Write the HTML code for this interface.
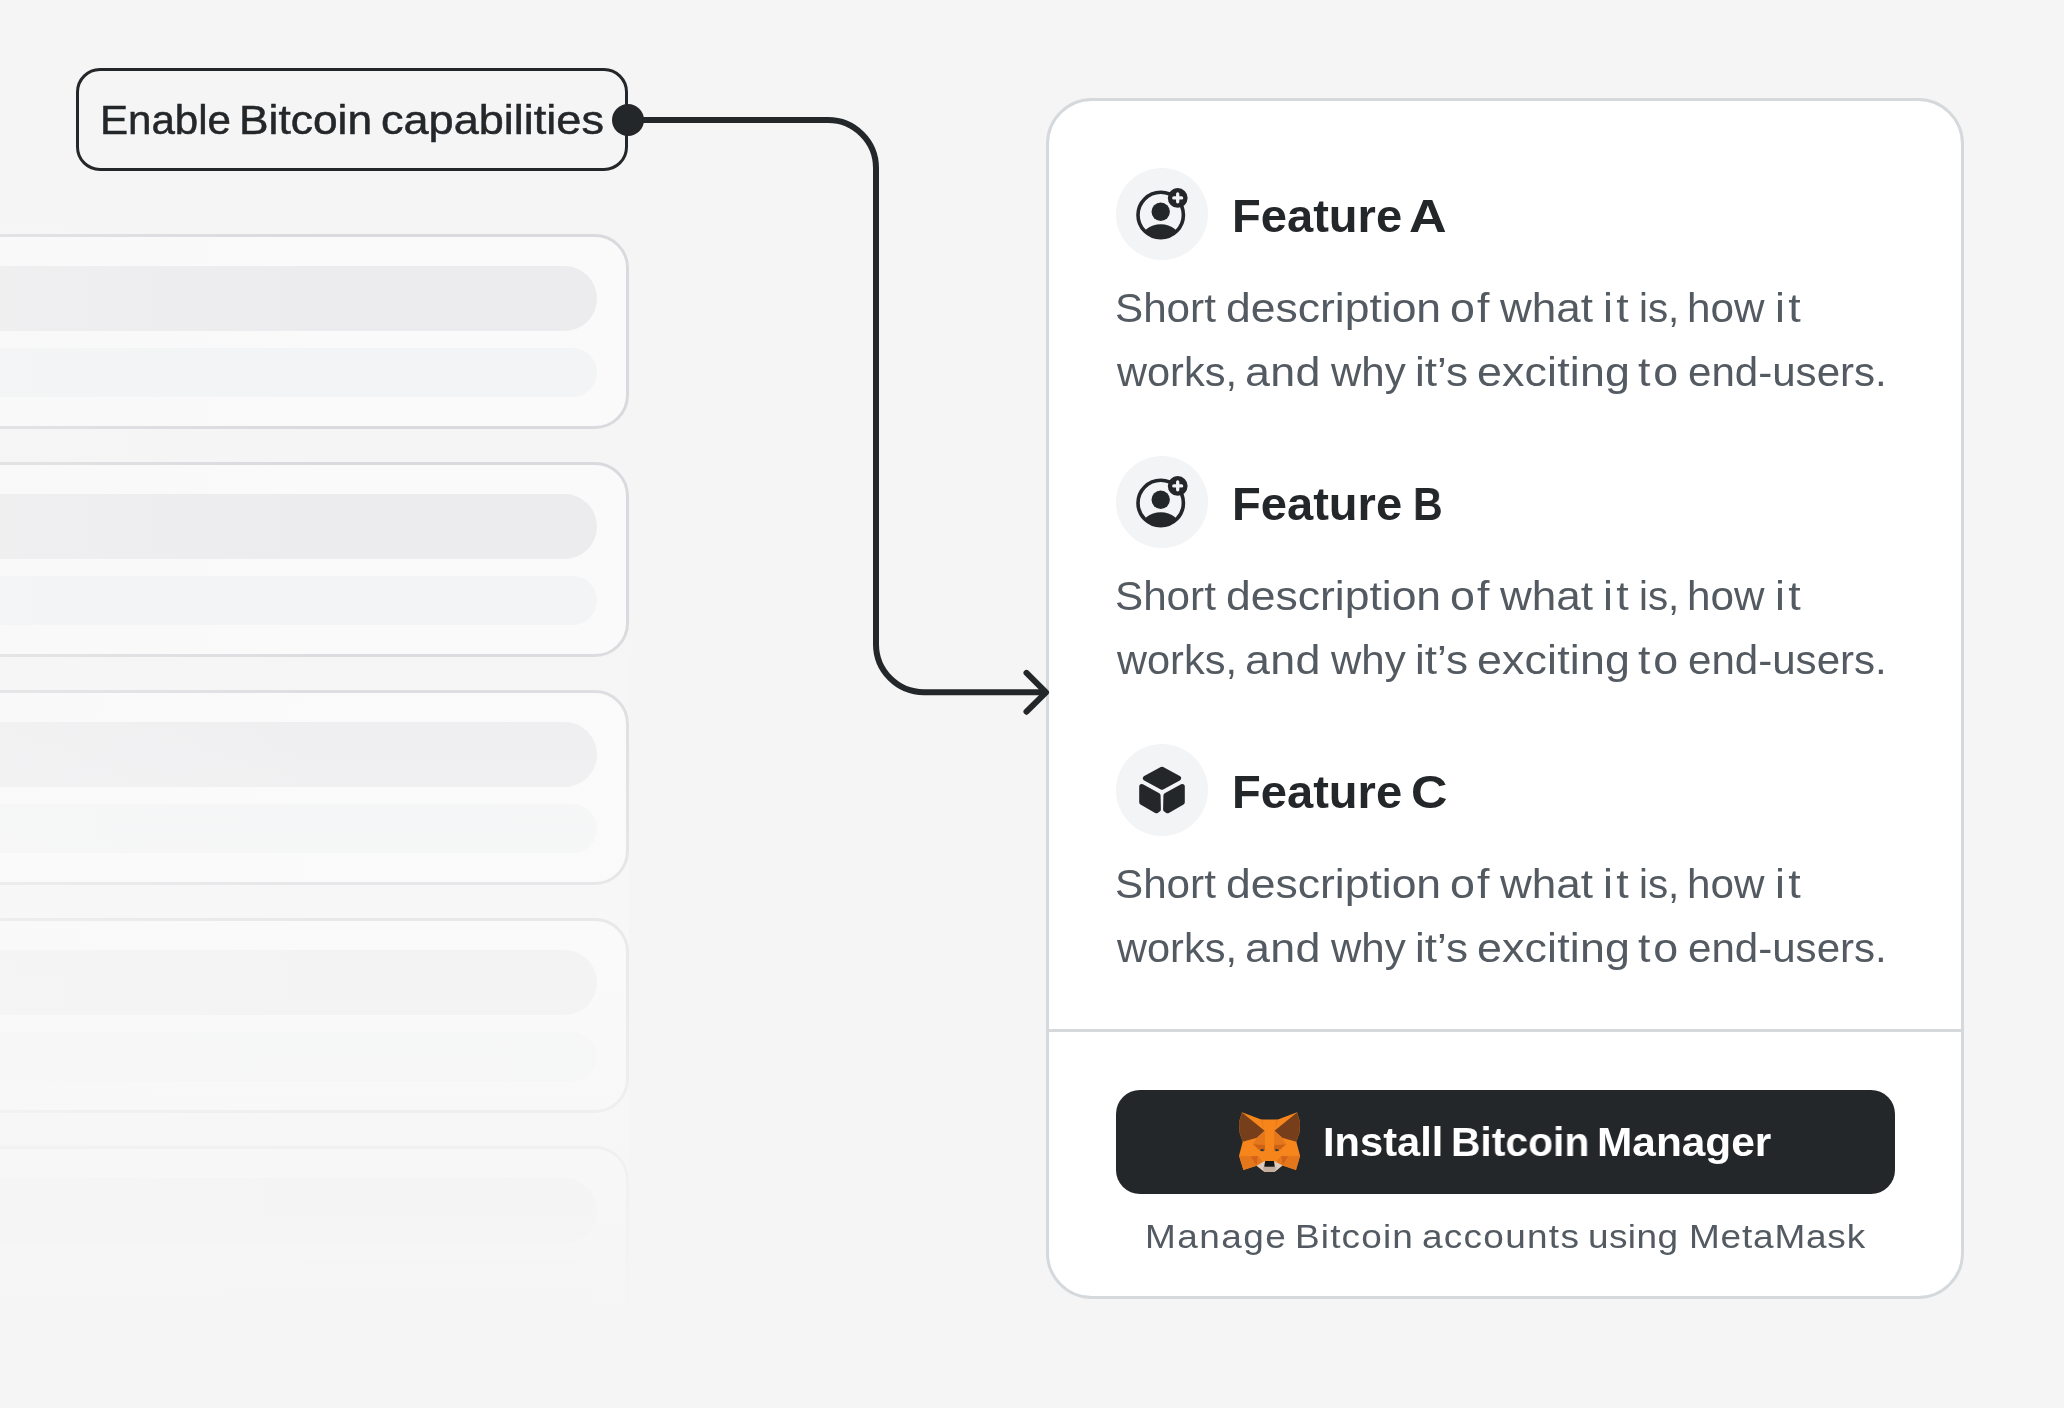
<!DOCTYPE html>
<html>
<head>
<meta charset="utf-8">
<title>Enable Bitcoin capabilities</title>
<style>
*{margin:0;padding:0;box-sizing:border-box;}
html,body{width:2064px;height:1408px;overflow:hidden;background:#f5f5f5;}
body{position:relative;font-family:"Liberation Sans",sans-serif;color:#24272a;}
.abs{position:absolute;}
.w{will-change:transform;position:absolute;white-space:nowrap;line-height:1;transform-origin:0 0;display:block;}
/* left label */
#label{left:76px;top:68px;width:552px;height:103px;border:3px solid #24272a;border-radius:24px;}
/* ghost cards */
.card{position:absolute;left:-60px;width:689px;height:195px;border:3px solid #dadade;border-radius:34px;background:#fafafa;overflow:hidden;}
.bar1{position:absolute;left:0;top:29px;width:654px;height:65px;border-radius:33px;background:#ececee;}
.bar2{position:absolute;left:0;top:111px;width:654px;height:49px;border-radius:25px;background:#f3f4f5;}
#fadeL{left:0;top:225px;width:320px;height:1120px;background:linear-gradient(90deg,rgba(246,246,246,.32) 0%,rgba(246,246,246,0) 100%);}
#fadeB{left:0;top:600px;width:629px;height:808px;background:linear-gradient(180deg,rgba(255,255,255,0) 0px,rgba(252,252,252,.25) 180px,rgba(250,250,250,.5) 360px,rgba(247,247,247,.75) 540px,rgba(245,245,245,1) 720px);}
/* panel */
#panel{left:1046px;top:98px;width:918px;height:1201px;border:3px solid #d6d9dc;border-radius:46px;background:#fff;}
#divider{left:1049px;top:1029px;width:912px;height:3px;background:#d6d9dc;}
.ic{position:absolute;left:1116px;width:92px;height:92px;border-radius:50%;background:#f2f4f6;}
#btn{left:1116px;top:1090px;width:779px;height:104px;border-radius:24px;background:#24272a;}
</style>
</head>
<body>
<!-- ghost cards -->
<div class="card" style="top:234px"><div class="bar1"></div><div class="bar2"></div></div>
<div class="card" style="top:462px"><div class="bar1"></div><div class="bar2"></div></div>
<div class="card" style="top:690px"><div class="bar1"></div><div class="bar2"></div></div>
<div class="card" style="top:918px"><div class="bar1"></div><div class="bar2"></div></div>
<div class="card" style="top:1146px"><div class="bar1"></div><div class="bar2"></div></div>
<div id="fadeL" class="abs"></div>
<div id="fadeB" class="abs"></div>
<!-- label -->
<div id="label" class="abs"></div>
<!-- panel -->
<div id="panel" class="abs"></div>
<div id="divider" class="abs"></div>
<div class="ic" style="top:168px"></div>
<div class="ic" style="top:456px"></div>
<div class="ic" style="top:744px"></div>
<div id="btn" class="abs"></div>
<!-- connector -->
<svg class="abs" style="left:0;top:0" width="2064" height="1408" viewBox="0 0 2064 1408">
  <path d="M628 120 H828 A48 48 0 0 1 876 168 V644.3 A48 48 0 0 0 924 692.3 H1045" fill="none" stroke="#24272a" stroke-width="6"/>
  <path d="M1026.5 672.9 L1046 692.3 L1026.5 711.7" fill="none" stroke="#24272a" stroke-width="6" stroke-linecap="round" stroke-linejoin="round"/>
  <circle cx="628" cy="120" r="16" fill="#24272a"/>
</svg>
<!-- icons -->
<svg class="abs" style="left:0;top:0" width="2064" height="1408" viewBox="0 0 2064 1408">
  <defs>
    <clipPath id="ringclip"><circle cx="0" cy="0" r="22.7"/></clipPath>
  </defs>
  <g transform="translate(1160.7 215)">
    <circle cx="0" cy="0" r="22.7" fill="none" stroke="#24272a" stroke-width="3.6"/>
    <circle cx="0" cy="-3.2" r="9.2" fill="#24272a"/>
    <ellipse cx="0" cy="26" rx="20" ry="16.8" fill="#24272a" clip-path="url(#ringclip)"/>
    <circle cx="17" cy="-17.1" r="9.9" fill="#24272a"/>
    <path d="M13.1 -17.1 H20.9 M17 -21 V-13.2" stroke="#f2f4f6" stroke-width="3.3" stroke-linecap="round" fill="none"/>
  </g>
  <g transform="translate(1160.7 503)">
    <circle cx="0" cy="0" r="22.7" fill="none" stroke="#24272a" stroke-width="3.6"/>
    <circle cx="0" cy="-3.2" r="9.2" fill="#24272a"/>
    <ellipse cx="0" cy="26" rx="20" ry="16.8" fill="#24272a" clip-path="url(#ringclip)"/>
    <circle cx="17" cy="-17.1" r="9.9" fill="#24272a"/>
    <path d="M13.1 -17.1 H20.9 M17 -21 V-13.2" stroke="#f2f4f6" stroke-width="3.3" stroke-linecap="round" fill="none"/>
  </g>
  <g transform="translate(1162 790.1)" fill="#24272a" stroke="#24272a" stroke-width="5" stroke-linejoin="round">
    <path d="M0 -20.9 L16.6 -11.9 L0 -2.9 L-16.6 -11.9 Z"/>
    <path d="M-20.3 -3.6 L-3.9 5.4 L-3.6 19.4 L-5.6 20.7 L-20.3 12.2 Z"/>
    <path d="M20.3 -3.6 L3.9 5.4 L3.6 19.4 L5.6 20.7 L20.3 12.2 Z"/>
  </g>
</svg>
<!-- fox -->
<svg class="abs" style="left:1220px;top:1090px" width="120" height="100" viewBox="0 0 1690 1408">
  <!-- base face -->
  <path d="M310 312 L580 415 L815 415 L1085 312 L1128 450 L1118 605 L1075 730 L1128 925 L1070 1125 L880 1062 L770 1152 L625 1152 L515 1065 L330 1125 L268 925 L320 730 L277 605 L268 450 Z" fill="#f6851b"/>
  <!-- ears dark -->
  <path d="M310 316 L628 572 L520 672 L320 730 L277 605 L268 450 Z" fill="#763e1a"/>
  <path d="M1085 316 L767 572 L875 672 L1075 730 L1118 605 L1128 450 Z" fill="#763e1a"/>
  <!-- inner top ear-light facets -->
  <path d="M580 415 L596 420 L634 610 L628 572 Z" fill="#e4761b"/>
  <path d="M815 415 L799 420 L761 610 L767 572 Z" fill="#e4761b"/>
  <!-- mid facets near eyes -->
  <path d="M628 572 L520 672 L465 765 L632 775 L632 640 Z" fill="#e4761b"/>
  <path d="M767 572 L875 672 L930 765 L763 775 L763 640 Z" fill="#e4761b"/>
  <!-- eye sockets -->
  <path d="M465 765 L632 775 L635 855 L545 838 Z" fill="#cd6116"/>
  <path d="M930 765 L763 775 L760 855 L850 838 Z" fill="#cd6116"/>
  <!-- eyes -->
  <path d="M558 846 L610 828 L616 862 L578 858 Z" fill="#233447"/>
  <path d="M837 846 L785 828 L779 862 L817 858 Z" fill="#233447"/>
  <!-- lower cheeks -->
  <path d="M268 925 L432 932 L515 1065 L330 1125 Z" fill="#e4761b"/>
  <path d="M1128 925 L963 932 L880 1062 L1070 1125 Z" fill="#e4761b"/>
  <path d="M432 932 L535 930 L515 1065 Z" fill="#d5621a"/>
  <path d="M963 932 L860 930 L880 1062 Z" fill="#d5621a"/>
  <path d="M535 930 L600 1010 L515 1065 Z" fill="#e4761b"/>
  <path d="M860 930 L795 1010 L880 1062 Z" fill="#e4761b"/>
  <!-- chin -->
  <path d="M515 1065 L625 1005 L770 1005 L880 1062 L770 1152 L625 1152 Z" fill="#dccbc0"/>
  <path d="M600 1085 L795 1085 L770 1152 L625 1152 Z" fill="#c0ad9e"/>
  <!-- nose -->
  <path d="M636 1000 L760 1000 L772 1082 L622 1082 Z" fill="#161616"/>
</svg>

<!-- text -->
<span class="w" style="left:99.7px;top:100.0px;font-size:41px;color:#24272a;transform:scaleX(1.026);-webkit-text-stroke:0.5px #24272a;">Enable</span>
<span class="w" style="left:239.0px;top:100.0px;font-size:41px;color:#24272a;transform:scaleX(1.081);-webkit-text-stroke:0.5px #24272a;">Bitcoin</span>
<span class="w" style="left:380.7px;top:100.0px;font-size:41px;color:#24272a;transform:scaleX(1.099);-webkit-text-stroke:0.5px #24272a;">capabilities</span>
<span class="w" style="left:1231.9px;top:192.3px;font-size:47px;color:#24272a;transform:scaleX(1.002);font-weight:bold;">Feature</span>
<span class="w" style="left:1409.4px;top:192.3px;font-size:47px;color:#24272a;transform:scaleX(1.108);font-weight:bold;">A</span>
<span class="w" style="left:1231.9px;top:480.3px;font-size:47px;color:#24272a;transform:scaleX(1.002);font-weight:bold;">Feature</span>
<span class="w" style="left:1412.5px;top:480.3px;font-size:47px;color:#24272a;transform:scaleX(0.872);font-weight:bold;">B</span>
<span class="w" style="left:1231.9px;top:768.3px;font-size:47px;color:#24272a;transform:scaleX(1.002);font-weight:bold;">Feature</span>
<span class="w" style="left:1411.2px;top:768.3px;font-size:47px;color:#24272a;transform:scaleX(1.073);font-weight:bold;">C</span>
<span class="w" style="left:1322.6px;top:1121.5px;font-size:41px;color:#ffffff;transform:scaleX(1.015);font-weight:bold;">Install</span>
<span class="w" style="left:1451.0px;top:1121.5px;font-size:41px;color:#ffffff;transform:scaleX(0.995);font-weight:bold;">Bitcoin</span>
<span class="w" style="left:1596.7px;top:1121.5px;font-size:41px;color:#ffffff;transform:scaleX(1.034);font-weight:bold;">Manager</span>
<span class="w" style="left:1144.5px;top:1220.3px;font-size:33px;color:#535a61;transform:scaleX(1.120);letter-spacing:1.31px;">Manage</span>
<span class="w" style="left:1295.0px;top:1220.3px;font-size:33px;color:#535a61;transform:scaleX(1.120);letter-spacing:1.02px;">Bitcoin</span>
<span class="w" style="left:1422.2px;top:1220.3px;font-size:33px;color:#535a61;transform:scaleX(1.120);letter-spacing:1.14px;">accounts</span>
<span class="w" style="left:1588.2px;top:1220.3px;font-size:33px;color:#535a61;transform:scaleX(1.120);letter-spacing:0.37px;">using</span>
<span class="w" style="left:1688.5px;top:1220.3px;font-size:33px;color:#535a61;transform:scaleX(1.120);letter-spacing:0.72px;">MetaMask</span>
<span class="w" style="left:1115.1px;top:288.1px;font-size:40px;color:#535a61;transform:scaleX(1.055);">Short</span>
<span class="w" style="left:1226.0px;top:288.1px;font-size:40px;color:#535a61;transform:scaleX(1.112);">description</span>
<span class="w" style="left:1449.8px;top:288.1px;font-size:40px;color:#535a61;transform:scaleX(1.120);letter-spacing:1.92px;">of</span>
<span class="w" style="left:1500.0px;top:288.1px;font-size:40px;color:#535a61;transform:scaleX(1.100);">what</span>
<span class="w" style="left:1602.6px;top:288.1px;font-size:40px;color:#535a61;transform:scaleX(1.120);letter-spacing:2.91px;">it</span>
<span class="w" style="left:1638.8px;top:288.1px;font-size:40px;color:#535a61;transform:scaleX(1.007);">is,</span>
<span class="w" style="left:1686.9px;top:288.1px;font-size:40px;color:#535a61;transform:scaleX(1.056);">how</span>
<span class="w" style="left:1775.1px;top:288.1px;font-size:40px;color:#535a61;transform:scaleX(1.120);letter-spacing:2.91px;">it</span>
<span class="w" style="left:1117.4px;top:351.9px;font-size:40px;color:#535a61;transform:scaleX(1.038);">works,</span>
<span class="w" style="left:1245.4px;top:351.9px;font-size:40px;color:#535a61;transform:scaleX(1.120);letter-spacing:0.31px;">and</span>
<span class="w" style="left:1330.6px;top:351.9px;font-size:40px;color:#535a61;transform:scaleX(1.051);">why</span>
<span class="w" style="left:1414.9px;top:351.9px;font-size:40px;color:#535a61;transform:scaleX(1.102);">it’s</span>
<span class="w" style="left:1477.0px;top:351.9px;font-size:40px;color:#535a61;transform:scaleX(1.120);letter-spacing:0.12px;">exciting</span>
<span class="w" style="left:1638.4px;top:351.9px;font-size:40px;color:#535a61;transform:scaleX(1.120);letter-spacing:2.57px;">to</span>
<span class="w" style="left:1687.7px;top:351.9px;font-size:40px;color:#535a61;transform:scaleX(1.052);">end-users.</span>
<span class="w" style="left:1115.1px;top:576.1px;font-size:40px;color:#535a61;transform:scaleX(1.055);">Short</span>
<span class="w" style="left:1226.0px;top:576.1px;font-size:40px;color:#535a61;transform:scaleX(1.112);">description</span>
<span class="w" style="left:1449.8px;top:576.1px;font-size:40px;color:#535a61;transform:scaleX(1.120);letter-spacing:1.92px;">of</span>
<span class="w" style="left:1500.0px;top:576.1px;font-size:40px;color:#535a61;transform:scaleX(1.100);">what</span>
<span class="w" style="left:1602.6px;top:576.1px;font-size:40px;color:#535a61;transform:scaleX(1.120);letter-spacing:2.91px;">it</span>
<span class="w" style="left:1638.8px;top:576.1px;font-size:40px;color:#535a61;transform:scaleX(1.007);">is,</span>
<span class="w" style="left:1686.9px;top:576.1px;font-size:40px;color:#535a61;transform:scaleX(1.056);">how</span>
<span class="w" style="left:1775.1px;top:576.1px;font-size:40px;color:#535a61;transform:scaleX(1.120);letter-spacing:2.91px;">it</span>
<span class="w" style="left:1117.4px;top:639.9px;font-size:40px;color:#535a61;transform:scaleX(1.038);">works,</span>
<span class="w" style="left:1245.4px;top:639.9px;font-size:40px;color:#535a61;transform:scaleX(1.120);letter-spacing:0.31px;">and</span>
<span class="w" style="left:1330.6px;top:639.9px;font-size:40px;color:#535a61;transform:scaleX(1.051);">why</span>
<span class="w" style="left:1414.9px;top:639.9px;font-size:40px;color:#535a61;transform:scaleX(1.102);">it’s</span>
<span class="w" style="left:1477.0px;top:639.9px;font-size:40px;color:#535a61;transform:scaleX(1.120);letter-spacing:0.12px;">exciting</span>
<span class="w" style="left:1638.4px;top:639.9px;font-size:40px;color:#535a61;transform:scaleX(1.120);letter-spacing:2.57px;">to</span>
<span class="w" style="left:1687.7px;top:639.9px;font-size:40px;color:#535a61;transform:scaleX(1.052);">end-users.</span>
<span class="w" style="left:1115.1px;top:864.1px;font-size:40px;color:#535a61;transform:scaleX(1.055);">Short</span>
<span class="w" style="left:1226.0px;top:864.1px;font-size:40px;color:#535a61;transform:scaleX(1.112);">description</span>
<span class="w" style="left:1449.8px;top:864.1px;font-size:40px;color:#535a61;transform:scaleX(1.120);letter-spacing:1.92px;">of</span>
<span class="w" style="left:1500.0px;top:864.1px;font-size:40px;color:#535a61;transform:scaleX(1.100);">what</span>
<span class="w" style="left:1602.6px;top:864.1px;font-size:40px;color:#535a61;transform:scaleX(1.120);letter-spacing:2.91px;">it</span>
<span class="w" style="left:1638.8px;top:864.1px;font-size:40px;color:#535a61;transform:scaleX(1.007);">is,</span>
<span class="w" style="left:1686.9px;top:864.1px;font-size:40px;color:#535a61;transform:scaleX(1.056);">how</span>
<span class="w" style="left:1775.1px;top:864.1px;font-size:40px;color:#535a61;transform:scaleX(1.120);letter-spacing:2.91px;">it</span>
<span class="w" style="left:1117.4px;top:927.9px;font-size:40px;color:#535a61;transform:scaleX(1.038);">works,</span>
<span class="w" style="left:1245.4px;top:927.9px;font-size:40px;color:#535a61;transform:scaleX(1.120);letter-spacing:0.31px;">and</span>
<span class="w" style="left:1330.6px;top:927.9px;font-size:40px;color:#535a61;transform:scaleX(1.051);">why</span>
<span class="w" style="left:1414.9px;top:927.9px;font-size:40px;color:#535a61;transform:scaleX(1.102);">it’s</span>
<span class="w" style="left:1477.0px;top:927.9px;font-size:40px;color:#535a61;transform:scaleX(1.120);letter-spacing:0.12px;">exciting</span>
<span class="w" style="left:1638.4px;top:927.9px;font-size:40px;color:#535a61;transform:scaleX(1.120);letter-spacing:2.57px;">to</span>
<span class="w" style="left:1687.7px;top:927.9px;font-size:40px;color:#535a61;transform:scaleX(1.052);">end-users.</span>
</body>
</html>
